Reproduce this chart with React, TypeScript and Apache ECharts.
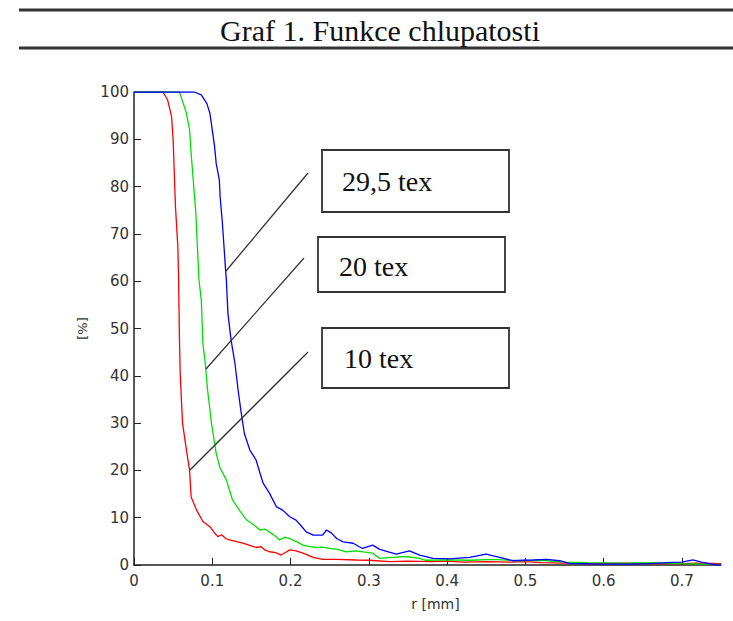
import React, { useEffect, useRef } from "react";
import * as echarts from "echarts";

const titleText = "Graf 1. Funkce chlupatosti";
const xTicks = [0, 0.1, 0.2, 0.3, 0.4, 0.5, 0.6, 0.7];
const yTicks = [0, 10, 20, 30, 40, 50, 60, 70, 80, 90, 100];
const seriesNames = ["10 tex", "20 tex", "29,5 tex"];
const seriesColors = ["#ff0000", "#00e000", "#0000ff"];

// [r (mm), share (%)]
const tex10: number[][] = [
  [0, 100], [0.037, 100], [0.043, 98.3], [0.048, 94.8], [0.05, 89.9], [0.053, 75.7],
  [0.056, 67.3], [0.057, 60.3], [0.058, 48.3], [0.059, 40.5], [0.062, 30], [0.067, 24.3],
  [0.071, 20], [0.073, 14.4], [0.08, 11.6], [0.088, 9.2], [0.097, 8.1], [0.102, 7.0],
  [0.107, 6.0], [0.112, 6.4], [0.117, 5.6], [0.122, 5.3], [0.13, 5.0], [0.139, 4.6],
  [0.147, 4.2], [0.156, 3.7], [0.162, 3.9], [0.167, 3.2], [0.173, 2.8], [0.181, 2.6],
  [0.188, 2.1], [0.193, 2.6], [0.199, 3.2], [0.207, 3.0], [0.216, 2.5], [0.229, 1.6],
  [0.241, 1.2], [0.26, 1.2], [0.284, 1.06], [0.3, 1.0], [0.327, 0.7], [0.35, 0.8],
  [0.38, 0.7], [0.4, 0.8], [0.42, 0.6], [0.45, 0.7], [0.48, 0.6], [0.5, 0.7],
  [0.52, 0.5], [0.55, 0.4], [0.58, 0.3], [0.62, 0.4], [0.66, 0.3], [0.7, 0.3],
  [0.72, 0.4], [0.75, 0.3],
];
const tex20: number[][] = [
  [0, 100], [0.058, 100], [0.063, 97.6], [0.067, 95.5], [0.071, 92], [0.073, 87],
  [0.076, 80.7], [0.079, 74.4], [0.081, 67.3], [0.083, 60.3], [0.086, 56], [0.088, 46.9],
  [0.091, 42.6], [0.094, 37], [0.099, 30], [0.105, 23.6], [0.11, 20.5], [0.118, 18],
  [0.126, 13.7], [0.135, 11.5], [0.144, 9.5], [0.152, 8.6], [0.161, 7.4], [0.167, 7.6],
  [0.173, 7.0], [0.18, 6.2], [0.186, 5.3], [0.193, 5.9], [0.199, 5.6], [0.207, 5.0],
  [0.216, 4.2], [0.225, 3.9], [0.233, 3.7], [0.241, 3.8], [0.25, 3.5], [0.26, 3.3],
  [0.271, 2.8], [0.284, 3.0], [0.295, 2.7], [0.305, 2.5], [0.314, 1.4], [0.33, 1.6],
  [0.348, 1.8], [0.365, 1.4], [0.373, 1.0], [0.4, 1.1], [0.43, 1.0], [0.46, 1.2],
  [0.49, 0.9], [0.52, 1.0], [0.55, 0.6], [0.58, 0.5], [0.62, 0.4], [0.66, 0.5],
  [0.7, 0.3], [0.73, 0.2], [0.75, 0.1],
];
const tex295: number[][] = [
  [0, 100], [0.077, 100], [0.086, 99.4], [0.093, 97.6], [0.097, 95.5], [0.1, 92],
  [0.103, 88.4], [0.105, 84.9], [0.109, 81.4], [0.11, 77.9], [0.113, 72.2], [0.115, 67.3],
  [0.117, 62.4], [0.118, 60.3], [0.12, 53.2], [0.124, 47.6], [0.129, 42.6], [0.133, 37],
  [0.137, 32.1], [0.141, 27.8], [0.148, 24.3], [0.156, 22.2], [0.161, 19.4], [0.165, 17.3],
  [0.173, 15.2], [0.182, 12.3], [0.19, 11.6], [0.199, 10.2], [0.207, 9.5], [0.214, 8.2],
  [0.22, 7.0], [0.229, 6.3], [0.241, 6.3], [0.246, 7.4], [0.252, 6.8], [0.259, 5.6],
  [0.267, 4.9], [0.28, 4.6], [0.292, 3.5], [0.305, 4.2], [0.314, 3.3], [0.325, 2.8],
  [0.335, 2.3], [0.352, 3.0], [0.365, 2.1], [0.382, 1.4], [0.403, 1.3], [0.429, 1.6],
  [0.44, 2.0], [0.45, 2.3], [0.467, 1.6], [0.484, 0.9], [0.497, 1.0], [0.51, 1.06],
  [0.527, 1.2], [0.544, 0.9], [0.556, 0.36], [0.595, 0.2], [0.633, 0.2], [0.66, 0.3],
  [0.68, 0.5], [0.7, 0.6], [0.714, 1.06], [0.725, 0.6], [0.744, 0.0], [0.75, 0.0],
];
const seriesData = [tex10, tex20, tex295];

export default function App() {
  const ref = useRef<HTMLDivElement>(null);
  useEffect(() => {
    if (!ref.current) return;
    const chart = echarts.init(ref.current, null, { renderer: "svg" });
    const sans = "DejaVu Sans";
    const serif = "Liberation Serif";
    const boxes = [
      { x: 322, y: 150, w: 187, h: 62, label: seriesNames[2], tx: 342, ty: 181 },
      { x: 318, y: 237, w: 187, h: 55, label: seriesNames[1], tx: 339, ty: 266 },
      { x: 322, y: 328, w: 187, h: 60, label: seriesNames[0], tx: 344, ty: 358 },
    ];
    const leaders = [
      [308, 173, 226, 271],
      [304, 258, 206, 369],
      [308, 352, 190, 470],
    ];
    chart.setOption({
      animation: false,
      backgroundColor: "#ffffff",
      grid: { left: 134, right: 12, top: 92, bottom: 56, containLabel: false },
      xAxis: {
        type: "value",
        min: 0,
        max: 0.75,
        interval: 0.1,
        name: "r [mm]",
        nameLocation: "middle",
        nameGap: 32,
        nameTextStyle: { fontFamily: sans, fontSize: 14, color: "#333", padding: [0, 0, 0, 16] },
        axisLine: { show: true, lineStyle: { color: "#222", width: 1.5 } },
        axisTick: { show: true, inside: true, length: 7, customValues: xTicks, lineStyle: { color: "#222" } },
        axisLabel: { customValues: xTicks, fontFamily: sans, fontSize: 15, color: "#333", margin: 8 },
        splitLine: { show: false },
      },
      yAxis: {
        type: "value",
        min: 0,
        max: 100,
        interval: 10,
        name: "[%]",
        nameLocation: "middle",
        nameGap: 45,
        nameRotate: 90,
        nameTextStyle: { fontFamily: sans, fontSize: 13, color: "#333" },
        axisLine: { show: true, lineStyle: { color: "#222", width: 1.5 } },
        axisTick: { show: true, inside: true, length: 7, customValues: yTicks, lineStyle: { color: "#222" } },
        axisLabel: { customValues: yTicks, fontFamily: sans, fontSize: 15, color: "#333", margin: 5 },
        splitLine: { show: false },
      },
      series: seriesData.map((d, i) => ({
        type: "line",
        name: seriesNames[i],
        data: d,
        showSymbol: false,
        symbol: "none",
        lineStyle: { color: seriesColors[i], width: 1.3 },
        z: 2 + i,
      })),
      graphic: [
        { type: "line", shape: { x1: 19, y1: 10, x2: 733, y2: 10 }, style: { stroke: "#333", lineWidth: 3 } },
        { type: "line", shape: { x1: 19, y1: 48, x2: 733, y2: 48 }, style: { stroke: "#333", lineWidth: 3 } },
        {
          type: "text",
          x: 380,
          y: 30,
          style: { text: titleText, font: `30px "${serif}"`, fill: "#111", textAlign: "center", textVerticalAlign: "middle" },
        },
        ...leaders.map((l) => ({
          type: "line",
          shape: { x1: l[0], y1: l[1], x2: l[2], y2: l[3] },
          style: { stroke: "#333", lineWidth: 1.3 },
          z: 10,
        })),
        ...boxes.flatMap((b) => [
          {
            type: "rect",
            shape: { x: b.x, y: b.y, width: b.w, height: b.h },
            style: { fill: "#fff", stroke: "#333", lineWidth: 1.8 },
            z: 10,
          },
          {
            type: "text",
            x: b.tx,
            y: b.ty,
            style: { text: b.label, font: `28px "${serif}"`, fill: "#111", textAlign: "left", textVerticalAlign: "middle" },
            z: 11,
          },
        ]),
      ],
    });
    return () => chart.dispose();
  }, []);
  return (
    <div
      ref={ref}
      style={{ position: "fixed", left: 0, top: 0, width: 733, height: 621, background: "#fff" }}
    />
  );
}
